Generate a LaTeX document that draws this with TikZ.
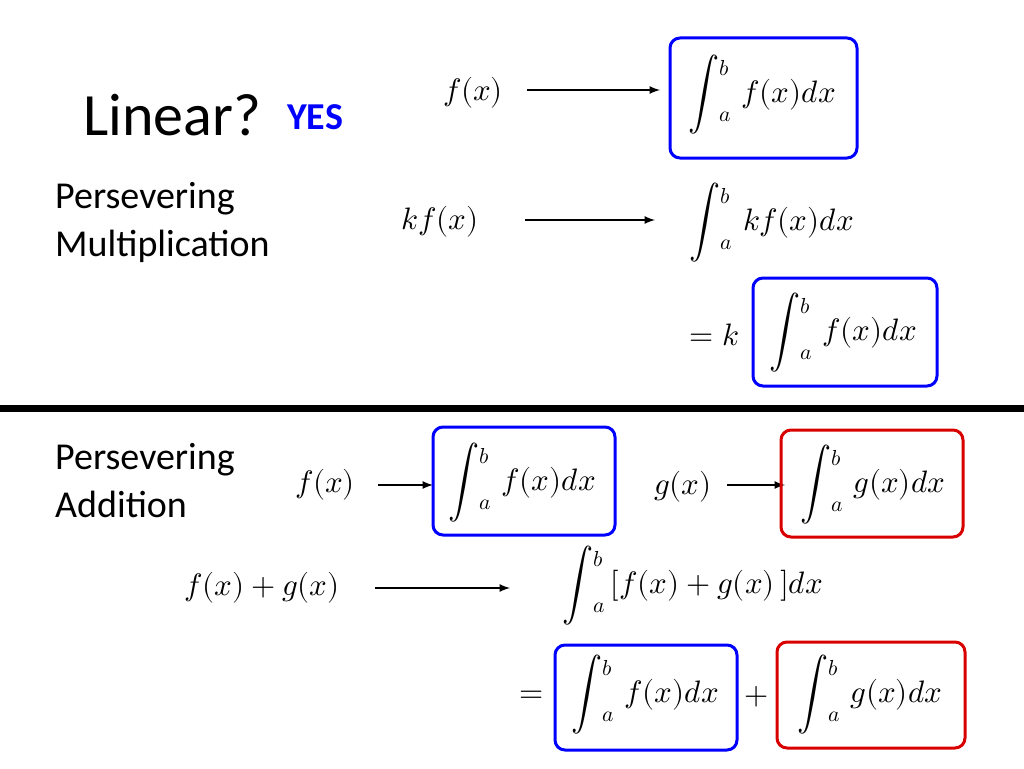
\documentclass[tikz,border=0pt]{standalone}
\usepackage{unicode-math}
\setmainfont{Carlito}
\setmathfont{Latin Modern Math}
\usepackage{graphicx}
\newcommand{\Int}[2]{\mathop{\vcenter{\hbox{\scalebox{1.0}[1.15]{$\displaystyle\int$}}}}\nolimits_{\raisebox{1.2ex}{$\scriptstyle #1$}}^{\raisebox{-1.0ex}{$\scriptstyle #2$}}\,}
\begin{document}
\begin{tikzpicture}[x=1pt,y=-1pt,
  m/.style={font=\fontsize{31}{40}\selectfont, inner sep=0pt},
  t/.style={font=\fontsize{38}{48}\selectfont, align=left, anchor=west, inner sep=0pt},
  bb/.style={draw=blue, line width=3pt, rounded corners=10pt},
  rb/.style={draw=red!85!black, line width=3pt, rounded corners=10pt},
  ar/.style={-latex, line width=2.5pt}]
\useasboundingbox (0,0) rectangle (1024,768);
% top
\node[anchor=west,inner sep=0pt,font=\fontsize{60}{70}\selectfont] (lin) at (83,115) {Linear?};
\node[anchor=west,inner sep=0pt,font=\fontsize{38}{44}\selectfont\bfseries,text=blue] (yes) at (287,117) {YES};
\node[m] (f1) at (473,93) {$f(x)$};
\coordinate (a1s) at (527,90); \coordinate (a1e) at (660,90);
\draw[ar] (a1s) -- (a1e);
\draw[bb] (670,38) rectangle (857,158);
\node[m] (i1) at (762,97) {$\Int{a}{b} f(x)dx$};
\node[t] (pm) at (55,222) {Persevering\\Multiplication};
\node[m] (kf) at (440,222) {$kf(x)$};
\coordinate (a2s) at (525,220); \coordinate (a2e) at (655,220);
\draw[ar] (a2s) -- (a2e);
\node[m] (i2) at (772,225) {$\Int{a}{b} kf(x)dx$};
\node[m] (ek) at (714,335) {$=k$};
\draw[bb] (753,278) rectangle (937,386);
\node[m] (i3) at (843,335) {$\Int{a}{b} f(x)dx$};
% divider
\coordinate (d1) at (0,408); \coordinate (d2) at (1024,408);
\draw[line width=7pt] (d1) -- (d2);
% bottom
\node[t] (pa) at (55,481) {Persevering\\Addition};
\node[m] (f2) at (325,485) {$f(x)$};
\coordinate (a3s) at (378,485); \coordinate (a3e) at (433,485);
\draw[ar] (a3s) -- (a3e);
\draw[bb] (433,427) rectangle (615,535);
\node[m] (i4) at (522,485) {$\Int{a}{b} f(x)dx$};
\node[m] (g2) at (683,487) {$g(x)$};
\coordinate (a4s) at (727,485); \coordinate (a4e) at (785,485);
\draw[ar] (a4s) -- (a4e);
\draw[rb] (781,430) rectangle (963,537);
\node[m] (i5) at (873,487) {$\Int{a}{b} g(x)dx$};
\node[m] (fg) at (262,588) {$f(x)+g(x)$};
\coordinate (a5s) at (375,588); \coordinate (a5e) at (510,588);
\draw[ar] (a5s) -- (a5e);
\node[m] (i6) at (693,588) {$\Int{a}{b} [f(x)+g(x)\,]dx$};
\node[m] (eq) at (532,697) {$=$};
\draw[bb] (555,645) rectangle (737,750);
\node[m] (i7) at (645,697) {$\Int{a}{b} f(x)dx$};
\node[m] (pl) at (757,697) {$+$};
\draw[rb] (777,642) rectangle (965,748);
\node[m] (i8) at (870,697) {$\Int{a}{b} g(x)dx$};
\end{tikzpicture}
\end{document}
